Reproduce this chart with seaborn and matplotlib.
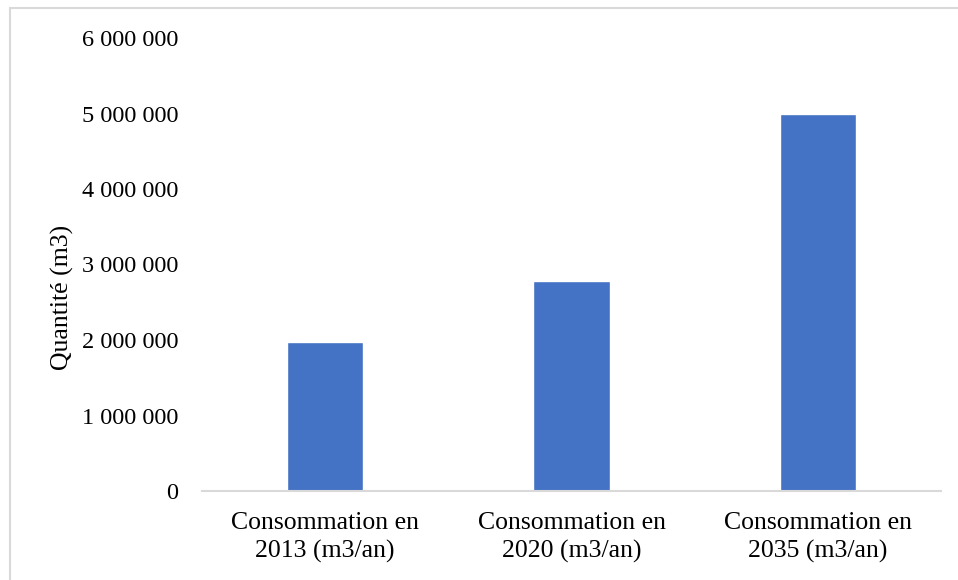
import matplotlib
matplotlib.use("Agg")
import matplotlib.pyplot as plt
import seaborn as sns
import pandas as pd
from matplotlib.ticker import FuncFormatter
from matplotlib.lines import Line2D

categories = ["Consommation en\n2013 (m3/an)",
              "Consommation en\n2020 (m3/an)",
              "Consommation en\n2035 (m3/an)"]
values = [1975000, 2780000, 5000000]
y_ticks = [0, 1000000, 2000000, 3000000, 4000000, 5000000, 6000000]

sns.set_theme(style="white")
plt.rcParams["font.family"] = ["Liberation Serif", "DejaVu Serif"]

df = pd.DataFrame({"cat": categories, "val": values})

W, H = 958, 580
fig = plt.figure(figsize=(W / 100, H / 100), dpi=100)
ax = fig.add_axes([202 / W, 1 - 491 / H, (941 - 202) / W, (491 - 38) / H])

sns.barplot(data=df, x="cat", y="val", color="#4472C4", width=0.31,
            saturation=1, ax=ax)

ax.set_ylim(0, 6000000)
ax.set_yticks(y_ticks)
ax.yaxis.set_major_formatter(FuncFormatter(lambda v, p: f"{int(v):,}".replace(",", " ")))
ax.tick_params(axis="y", length=0, pad=17, labelsize=17.5, colors="#000000")
ax.tick_params(axis="x", length=0, pad=15, labelsize=18.5, colors="#000000")
for lbl in ax.get_xticklabels():
    lbl.set_linespacing(1.32)

ax.set_xlabel("")
ax.set_ylabel("")
fig.text(62 / W, 1 - 297 / H, "Quantité (m3)", rotation=90, ha="center",
         va="center", fontsize=18.5, color="#000000")

for side in ["top", "right", "left"]:
    ax.spines[side].set_visible(False)
ax.spines["bottom"].set_color("#D9D9D9")
ax.spines["bottom"].set_linewidth(1.5)

# light frame around the chart area
fig.add_artist(Line2D([9.5 / W, 1], [1 - 7.5 / H, 1 - 7.5 / H],
                      transform=fig.transFigure, color="#D9D9D9", lw=1.5))
fig.add_artist(Line2D([9.5 / W, 9.5 / W], [0, 1 - 7.5 / H],
                      transform=fig.transFigure, color="#D9D9D9", lw=1.5))

fig.savefig("out.png", dpi=100)
